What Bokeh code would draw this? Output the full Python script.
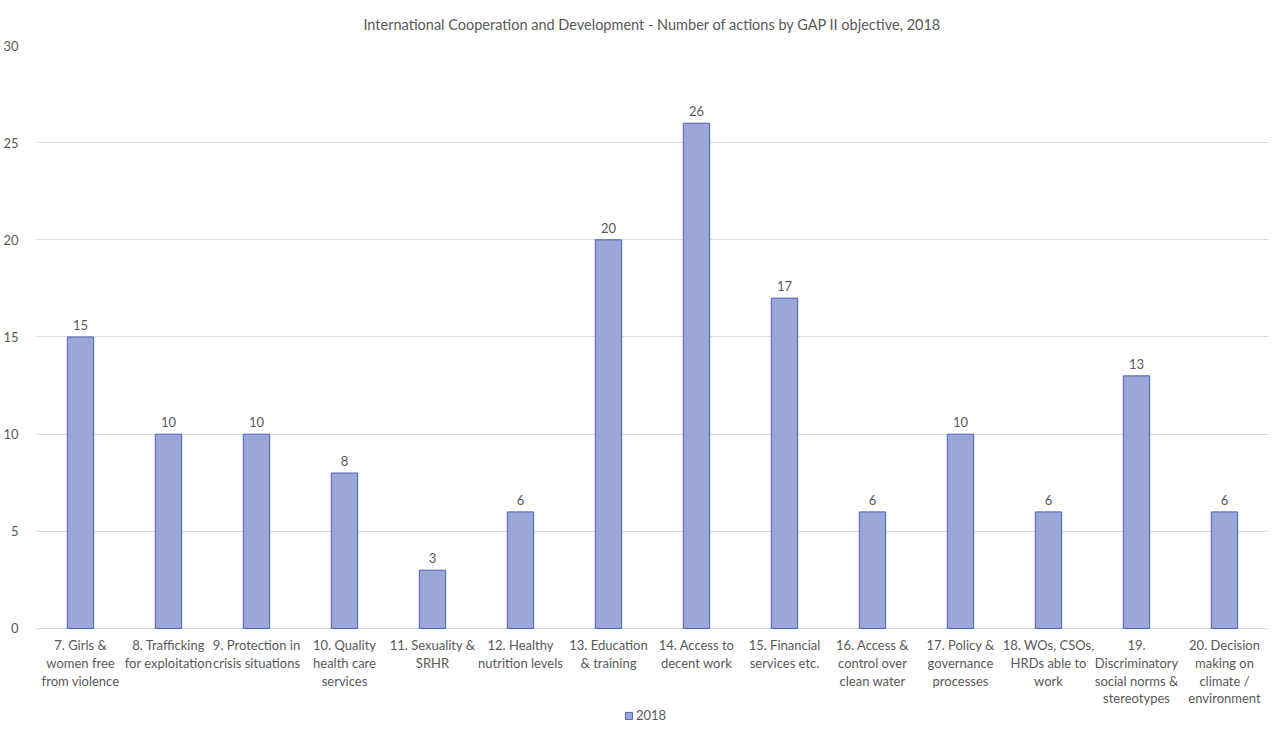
from bokeh.plotting import figure
from bokeh.models import ColumnDataSource, Legend, LegendItem, Range1d, FixedTicker
from bokeh.core.properties import value
from bokeh.embed import file_html
from bokeh.resources import INLINE

categories = [
    "7. Girls &\nwomen free\nfrom violence",
    "8. Trafficking\nfor exploitation",
    "9. Protection in\ncrisis situations",
    "10. Quality\nhealth care\nservices",
    "11. Sexuality &\nSRHR",
    "12. Healthy\nnutrition levels",
    "13. Education\n& training",
    "14. Access to\ndecent work",
    "15. Financial\nservices etc.",
    "16. Access &\ncontrol over\nclean water",
    "17. Policy &\ngovernance\nprocesses",
    "18. WOs, CSOs,\nHRDs able to\nwork",
    "19.\nDiscriminatory\nsocial norms &\nstereotypes",
    "20. Decision\nmaking on\nclimate /\nenvironment",
]
values_2018 = [15, 10, 10, 8, 3, 6, 20, 26, 17, 6, 10, 6, 13, 6]
y_ticks = [0, 5, 10, 15, 20, 25, 30]

FONT = "Lato"
GREY = "#595959"

src = ColumnDataSource(dict(cat=categories, val=values_2018,
                            lab=[str(v) for v in values_2018],
                            base=[0] * len(categories)))

# extra room below zero holds the category labels and legend (layout only)
p = figure(x_range=categories, y_range=Range1d(-4.89, 30), frame_width=1232, frame_height=678,
           output_backend="svg", toolbar_location=None,
           title="International Cooperation and Development - Number of actions by GAP II objective, 2018")
p.min_border_left = 27
p.min_border_right = 4
p.min_border_top = 0
p.min_border_bottom = 4
p.outline_line_color = None

p.title.align = "center"
p.title.text_font = FONT
p.title.text_font_size = "14.5px"
p.title.text_font_style = "normal"
p.title.text_color = GREY
p.title.standoff = 26
p.title.offset = 0

r = p.vbar(x="cat", top="val", bottom="base", width=0.3, source=src,
           fill_color="#9aa7d8", line_color="#4a63b8", line_width=1)
p.text(x="cat", y="val", text="lab", source=src, text_align="center",
       text_baseline="bottom", y_offset=-7, text_font=value(FONT),
       text_font_size="13px", text_color=GREY)
# category labels under the zero line
p.text(x="cat", y="base", text="cat", source=src, text_align="center",
       text_baseline="top", y_offset=9, text_font=value(FONT),
       text_font_size="13px", text_color=GREY, text_line_height=1.1)

p.yaxis.ticker = FixedTicker(ticks=y_ticks)
p.yaxis.axis_line_color = None
p.yaxis.major_tick_line_color = None
p.yaxis.minor_tick_line_color = None
p.yaxis.major_label_text_font = FONT
p.yaxis.major_label_text_font_size = "13px"
p.yaxis.major_label_text_color = GREY
p.yaxis.major_label_standoff = 12

p.xaxis.visible = False
p.xgrid.grid_line_color = None
p.ygrid.grid_line_color = "#d9d9d9"

legend = Legend(items=[LegendItem(label="2018", renderers=[r])], orientation="horizontal",
                location=(588, 0), label_text_font=FONT, label_text_font_size="13px",
                label_text_color=GREY, border_line_color=None, background_fill_alpha=0,
                glyph_width=9, glyph_height=9,
                margin=0, padding=2, label_standoff=3, label_height=12)
p.add_layout(legend, "center")

open("out.html", "w").write(file_html(p, INLINE))
